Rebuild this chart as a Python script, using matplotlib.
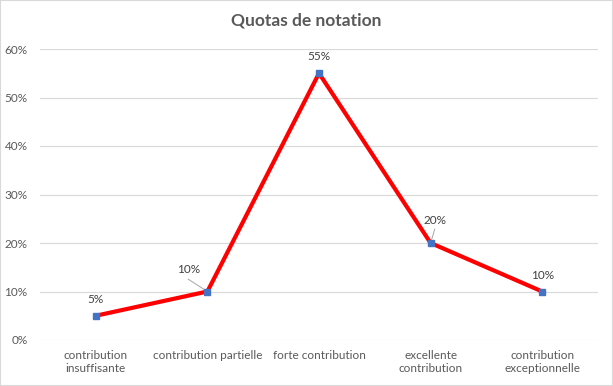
import matplotlib
matplotlib.use("Agg")
import matplotlib.pyplot as plt
from matplotlib.ticker import FuncFormatter
from matplotlib.patches import Rectangle

categories = ["contribution\ninsuffisante", "contribution partielle", "forte contribution",
              "excellente\ncontribution", "contribution\nexceptionnelle"]
values = [0.05, 0.10, 0.55, 0.20, 0.10]
labels = ["5%", "10%", "55%", "20%", "10%"]

plt.rcParams['font.family'] = ['Lato', 'DejaVu Sans']

fig = plt.figure(figsize=(6.13, 3.86), dpi=100)
ax = fig.add_axes([40/613, 46/386, 558/613, 291/386])

x = list(range(len(values)))
ax.plot(x, values, color="#FF0000", lw=3, zorder=3)
ax.plot(x, values, ls="none", marker="s", ms=5, color="#4472C4", zorder=4)

ax.set_xlim(-0.5, len(values) - 0.5)
ax.set_ylim(0, 0.6)
ax.set_yticks([i / 10 for i in range(7)])
ax.yaxis.set_major_formatter(FuncFormatter(lambda v, p: f"{v*100:.0f}%"))
ax.set_xticks(x)
ax.set_xticklabels(categories)
ax.tick_params(axis="both", length=0, labelsize=8.5, colors="#595959")
ax.tick_params(axis="x", pad=7)
ax.tick_params(axis="y", pad=9)
ax.grid(axis="y", color="#D9D9D9", lw=0.8)
ax.set_axisbelow(True)
for s in ax.spines.values():
    s.set_visible(False)

# data labels (offsets in points)
offsets = [(0, 11.5), (-13.7, 16), (0, 12), (3, 16.5), (0, 11.5)]
for i, (v, lab, off) in enumerate(zip(values, labels, offsets)):
    ax.annotate(lab, (i, v), xytext=off, textcoords="offset points",
                ha="center", va="center", fontsize=8.5, color="#404040")
# leader lines for offset labels
for i, (dx, dy) in [(1, (-14, 9)), (3, (3, 10))]:
    ax.annotate("", (i, values[i]), xytext=(dx, dy), textcoords="offset points",
                arrowprops=dict(arrowstyle="-", color="#A6A6A6", lw=0.7, shrinkA=0, shrinkB=2))

fig.suptitle("Quotas de notation", y=1 - 20/386, va="center", fontsize=12.5,
             fontweight="bold", color="#595959")

fig.patches.append(Rectangle((0, 0), 1, 1, transform=fig.transFigure, fill=False,
                             edgecolor="#D9D9D9", lw=1.5))
fig.savefig("out.png", dpi=100)
